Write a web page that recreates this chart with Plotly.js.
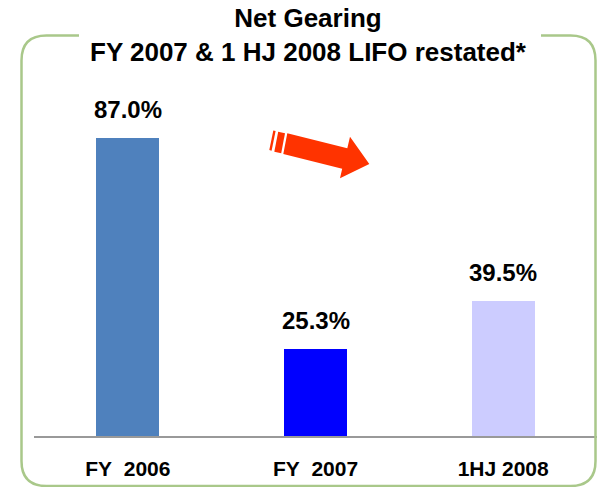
<!DOCTYPE html>
<html>
<head>
<meta charset="utf-8">
<script src="https://cdn.plot.ly/plotly-3.0.1.min.js"></script>
<style>html,body{margin:0;padding:0;background:#fff;}#chart{width:597px;height:487px;}</style>
</head>
<body>
<div id="chart"></div>
<script>
// ---- data ----
const categories = ['FY\u00a0 2006', 'FY\u00a0 2007', '1HJ 2008'];
const values = [87.0, 25.3, 39.5];
const valueLabels = ['87.0%', '25.3%', '39.5%'];
const titleLines = ['Net Gearing', 'FY 2007 & 1 HJ 2008 LIFO restated*'];

// ---- styles ----
const barColors = ['#4F81BD', '#0000FF', '#CCCCFF'];
const FONT = 'Liberation Sans, Arial, sans-serif';
const W = 597, H = 487;
const M = {l: 34, r: 0, t: 60, b: 51};
const PW = W - M.l - M.r, PH = H - M.t - M.b;
const px = x => (x - M.l) / PW;
const py = y => (H - M.b - y) / PH;
const P = (x, y) => px(x).toFixed(5) + ',' + py(y).toFixed(5);

const r = 25;
const boxL = 21.5, boxR = 595.5, boxT = 35.5, boxB = 486;
const borderLeft = 'M ' + P(79, boxT) + ' L ' + P(boxL + r, boxT) + ' Q ' + P(boxL, boxT) + ' ' + P(boxL, boxT + r) +
  ' L ' + P(boxL, boxB - r) + ' Q ' + P(boxL, boxB) + ' ' + P(boxL + r, boxB) +
  ' L ' + P(boxR - r, boxB) + ' Q ' + P(boxR, boxB) + ' ' + P(boxR, boxB - r) +
  ' L ' + P(boxR, boxT + r) + ' Q ' + P(boxR, boxT) + ' ' + P(boxR - r, boxT) + ' L ' + P(541, boxT);

const arrowBody = 'M ' + P(287.3, 133.3) + ' L ' + P(347.3, 148.3) + ' L ' + P(350, 136.7) + ' L ' + P(369.3, 164) +
  ' L ' + P(340, 178.3) + ' L ' + P(342.2, 168.7) + ' L ' + P(283.3, 154) + ' Z';
const stripe2 = 'M ' + P(278.2, 131.8) + ' L ' + P(285, 133.3) + ' L ' + P(281.2, 153.3) + ' L ' + P(274.3, 151.7) + ' Z';
const stripe1 = 'M ' + P(273.3, 130.5) + ' L ' + P(275.6, 131.1) + ' L ' + P(271.6, 150.7) + ' L ' + P(269.3, 150.1) + ' Z';

const trace = {
  type: 'bar',
  x: categories,
  y: values,
  width: 0.337,
  marker: {color: barColors, line: {width: 0}},
  hoverinfo: 'none'
};

const annotations = categories.map((c, i) => ({
  x: c, y: values[i], xref: 'x', yref: 'y',
  text: valueLabels[i], showarrow: false,
  yanchor: 'bottom', yshift: 13,
  font: {family: FONT, size: 24, color: '#000', weight: 700}
}));
annotations.push({
  xref: 'paper', yref: 'paper', x: px(308), y: py(1),
  xanchor: 'center', yanchor: 'top', showarrow: false,
  text: titleLines.join('<br>'),
  font: {family: FONT, size: 26, color: '#000', weight: 700}
});

const shapeStyle = {xref: 'paper', yref: 'paper'};
const layout = {
  width: W, height: H,
  margin: M,
  paper_bgcolor: '#fff', plot_bgcolor: '#fff',
  showlegend: false,
  bargap: 0,
  xaxis: {
    type: 'category', range: [-0.5, 2.5], fixedrange: true,
    showline: true, linecolor: '#999999', linewidth: 1.5,
    showgrid: false, zeroline: false, ticks: '',
    ticklabelstandoff: 13,
    tickfont: {family: FONT, size: 21, color: '#000', weight: 700}
  },
  yaxis: {
    range: [0, PH / 3.425], visible: false, showgrid: false, zeroline: false, fixedrange: true
  },
  annotations: annotations,
  shapes: [
    Object.assign({type: 'path', path: borderLeft, line: {color: '#A9C88A', width: 2.5}, fillcolor: 'rgba(0,0,0,0)'}, shapeStyle),
    Object.assign({type: 'path', path: arrowBody, line: {width: 0}, fillcolor: '#FF3300'}, shapeStyle),
    Object.assign({type: 'path', path: stripe2, line: {width: 0}, fillcolor: '#FF3300'}, shapeStyle),
    Object.assign({type: 'path', path: stripe1, line: {width: 0}, fillcolor: '#FF3300'}, shapeStyle)
  ]
};

Plotly.newPlot('chart', [trace], layout, {displayModeBar: false, staticPlot: true});
</script>
</body>
</html>
